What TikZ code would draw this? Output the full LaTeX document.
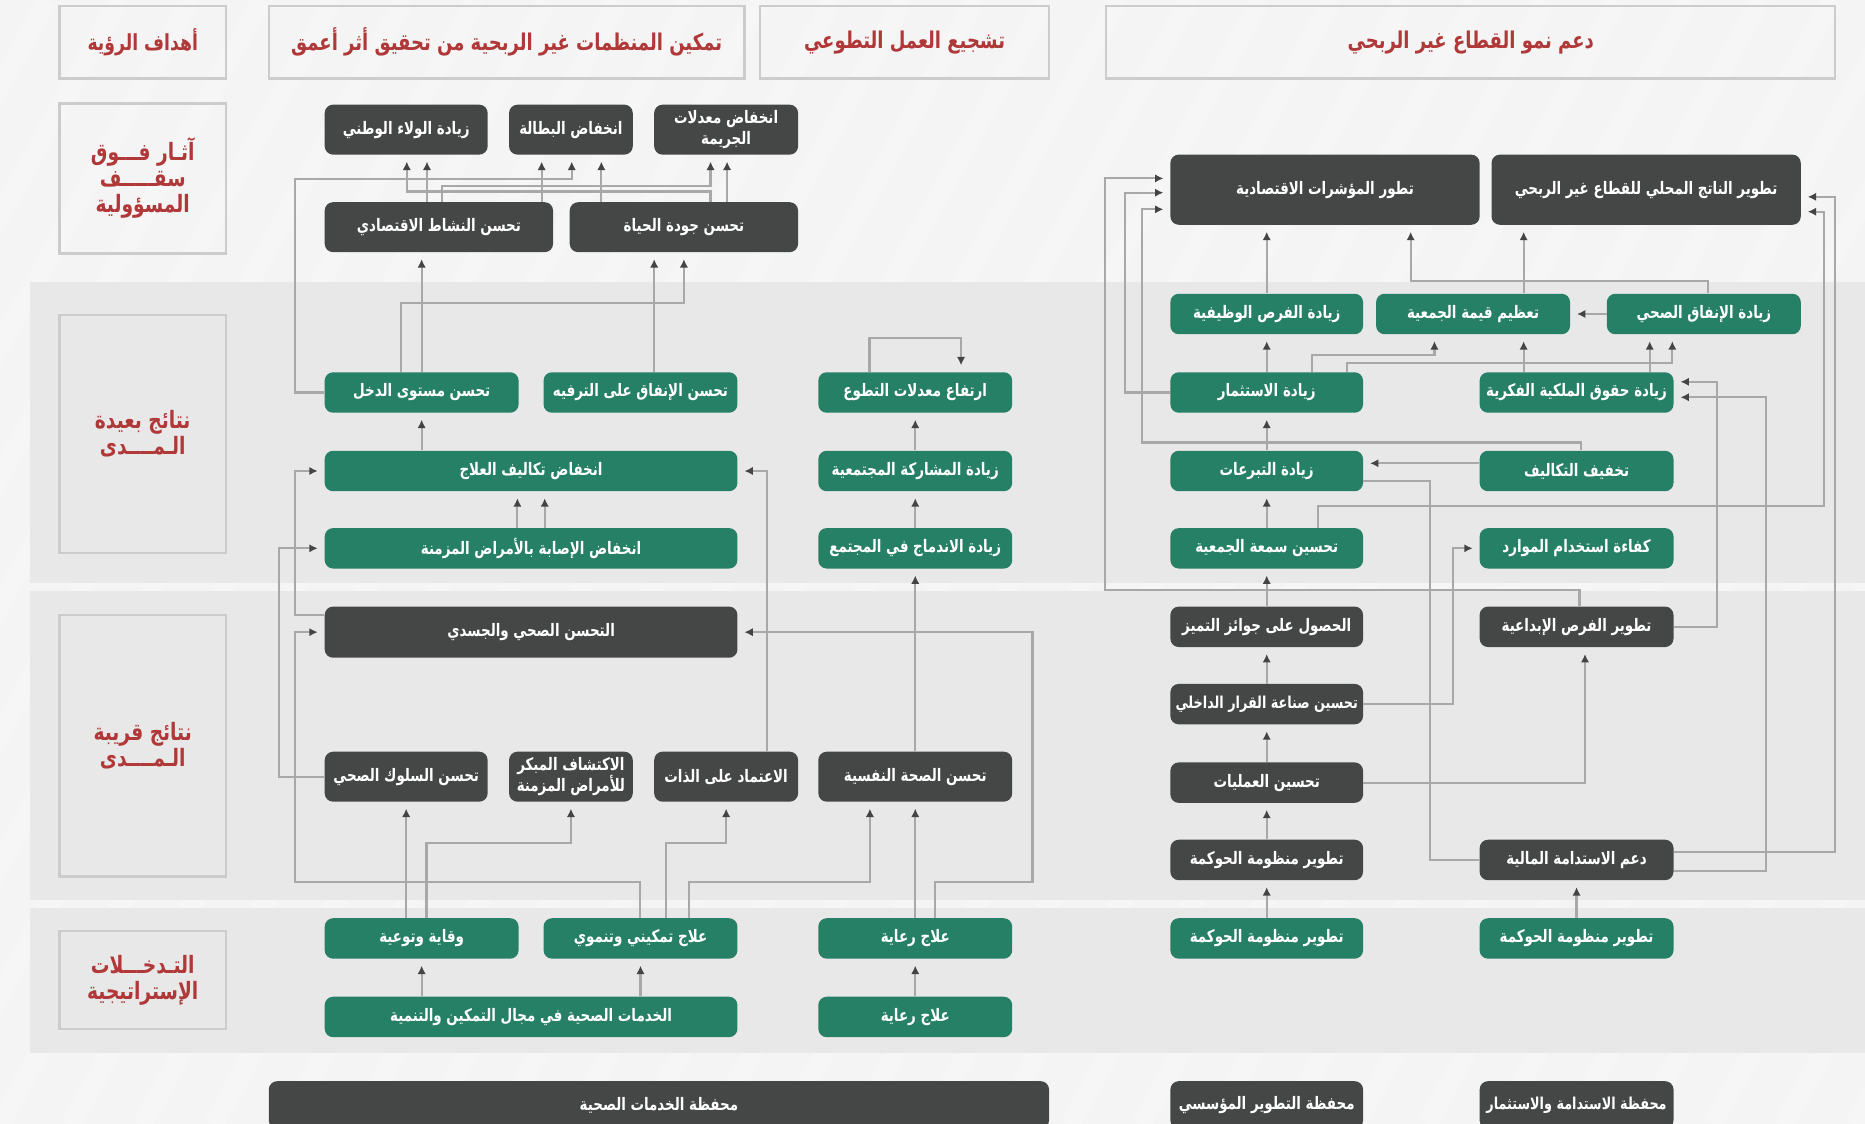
\documentclass[tikz,border=0pt]{standalone}
\usepackage{fontspec}
\newfontfamily\arabicfont[Script=Arabic,FakeStretch=0.78]{DejaVu Sans}
\TeXXeTstate=1
\newcommand\artxt[1]{\beginR #1\endR}
\definecolor{kpigreen}{RGB}{38,128,102}
\definecolor{kpidark}{RGB}{69,71,70}
\definecolor{kpired}{RGB}{176,56,56}
\definecolor{kpiband}{RGB}{232,232,232}
\definecolor{kpibg}{RGB}{244,244,244}
\definecolor{kpiline}{RGB}{168,168,168}
\definecolor{kpitip}{RGB}{68,68,68}
\definecolor{kpiframe}{RGB}{204,204,204}
\usetikzlibrary{arrows.meta}
\newdimen\unitpx \unitpx=0.025cm
\tikzset{
  box/.style={rounded corners=5pt, text=white, align=center, inner sep=0pt,
    font=\arabicfont\bfseries\fontsize{10.3}{12.5}\selectfont, minimum height=34*\unitpx},
  greenbox/.style={box, fill=kpigreen},
  darkbox/.style={box, fill=kpidark},
  small/.style={font=\arabicfont\bfseries\fontsize{9.8}{12}\selectfont},
  headbox/.style={draw=kpiframe, line width=1.4pt, text=kpired, align=center, inner sep=0pt,
    font=\arabicfont\bfseries\fontsize{13.8}{16}\selectfont, minimum height=61*\unitpx},
  rowbox/.style={headbox, minimum width=140*\unitpx, font=\arabicfont\bfseries\fontsize{14.3}{15.5}\selectfont},
  conn/.style={draw=kpiline, line width=1.3pt, shorten >=4pt,
    -{Latex[length=5pt,width=5pt,color=kpitip]}},
  plain/.style={draw=kpiline, line width=1.3pt},
}

\begin{document}
\begin{tikzpicture}[x=0.025cm, y=-0.025cm]
  \useasboundingbox (0,0) rectangle (1568,945);
  \fill[kpibg] (0,0) rectangle (1568,945);
  \begin{scope}
    \clip (0,0) rectangle (1568,945);
    \foreach \s in {-600,-540,...,1560}
      \draw[white, line width=12pt, opacity=0.25] (\s,945) -- (\s+520,0);
  \end{scope}
  \fill[kpiband] (25,237) rectangle (1568,490);
  \fill[kpiband] (25,497) rectangle (1568,757);
  \fill[kpiband] (25,763) rectangle (1568,885);

  % headers and rows
  \node[headbox, minimum width=140*\unitpx, font=\arabicfont\bfseries\fontsize{13.2}{15}\selectfont] (goals) at (120,35.5) {\artxt{أهداف الرؤية}};
  \node[headbox, minimum width=400*\unitpx] (goal1) at (426,35.5) {\artxt{تمكين المنظمات غير الربحية من تحقيق أثر أعمق}};
  \node[headbox, minimum width=243*\unitpx] (goal2) at (760.5,35.5) {\artxt{تشجيع العمل التطوعي}};
  \node[headbox, minimum width=613*\unitpx] (goal3) at (1236.5,35.5) {\artxt{دعم نمو القطاع غير الربحي}};
  \node[rowbox, minimum height=126*\unitpx] (row1) at (120,150) {\artxt{آثـار فـــوق}\\\artxt{سقـــــف}\\\artxt{المسؤولية}};
  \node[rowbox, minimum height=200*\unitpx] (row2) at (120,365) {\artxt{نتائج بعيدة}\\\artxt{الـمــــدى}};
  \node[rowbox, minimum height=220*\unitpx] (row3) at (120,627) {\artxt{نتائج قريبة}\\\artxt{الـمــــدى}};
  \node[rowbox, minimum height=82*\unitpx] (row4) at (120,824) {\artxt{التـدخـــلات}\\\artxt{الإستراتيجية}};

  % health services
  \node[darkbox, minimum width=137*\unitpx, minimum height=42*\unitpx] (loyalty) at (341.5,109) {\artxt{زيادة الولاء الوطني}};
  \node[darkbox, minimum width=104*\unitpx, minimum height=42*\unitpx] (unemploy) at (480,109) {\artxt{انخفاض البطالة}};
  \node[darkbox, minimum width=121*\unitpx, minimum height=42*\unitpx] (crime) at (610.5,109) {\artxt{انخفاض معدلات}\\\artxt{الجريمة}};
  \node[darkbox, minimum width=192*\unitpx, minimum height=42*\unitpx] (econ) at (369,191) {\artxt{تحسن النشاط الاقتصادي}};
  \node[darkbox, minimum width=192*\unitpx, minimum height=42*\unitpx] (quality) at (575,191) {\artxt{تحسن جودة الحياة}};
  \node[greenbox, minimum width=163*\unitpx] (income) at (354.5,330) {\artxt{تحسن مستوى الدخل}};
  \node[greenbox, minimum width=163*\unitpx] (leisure) at (538.5,330) {\artxt{تحسن الإنفاق على الترفيه}};
  \node[greenbox, minimum width=163*\unitpx] (volrate) at (769.5,330) {\artxt{ارتفاع معدلات التطوع}};
  \node[greenbox, minimum width=347*\unitpx] (costs) at (446.5,396) {\artxt{انخفاض تكاليف العلاج}};
  \node[greenbox, minimum width=163*\unitpx] (participation) at (769.5,396) {\artxt{زيادة المشاركة المجتمعية}};
  \node[greenbox, minimum width=347*\unitpx] (chronic) at (446.5,461) {\artxt{انخفاض الإصابة بالأمراض المزمنة}};
  \node[greenbox, minimum width=163*\unitpx] (integration) at (769.5,461) {\artxt{زيادة الاندماج في المجتمع}};
  \node[darkbox, minimum width=347*\unitpx, minimum height=43*\unitpx] (health) at (446.5,531.5) {\artxt{التحسن الصحي والجسدي}};
  \node[darkbox, minimum width=137*\unitpx, minimum height=42*\unitpx] (behaviour) at (341.5,653) {\artxt{تحسن السلوك الصحي}};
  \node[darkbox, minimum width=104*\unitpx, minimum height=42*\unitpx] (early) at (480,653) {\artxt{الاكتشاف المبكر}\\\artxt{للأمراض المزمنة}};
  \node[darkbox, minimum width=121*\unitpx, minimum height=42*\unitpx] (selfrel) at (610.5,653) {\artxt{الاعتماد على الذات}};
  \node[darkbox, minimum width=163*\unitpx, minimum height=42*\unitpx] (mental) at (769.5,653) {\artxt{تحسن الصحة النفسية}};
  \node[greenbox, minimum width=163*\unitpx] (prevent) at (354.5,789) {\artxt{وقاية وتوعية}};
  \node[greenbox, minimum width=163*\unitpx] (enable) at (538.5,789) {\artxt{علاج تمكيني وتنموي}};
  \node[greenbox, minimum width=163*\unitpx] (care) at (769.5,789) {\artxt{علاج رعاية}};
  \node[greenbox, minimum width=347*\unitpx] (services) at (446.5,855) {\artxt{الخدمات الصحية في مجال التمكين والتنمية}};
  \node[greenbox, minimum width=163*\unitpx] (care2) at (769.5,855) {\artxt{علاج رعاية}};

  % nonprofit sector
  \node[darkbox, minimum width=260*\unitpx, minimum height=59*\unitpx] (indicators) at (1114,159.5) {\artxt{تطور المؤشرات الاقتصادية}};
  \node[darkbox, minimum width=260*\unitpx, minimum height=59*\unitpx] (gdp) at (1384,159.5) {\artxt{تطوير الناتج المحلي للقطاع غير الربحي}};
  \node[greenbox, minimum width=162*\unitpx] (jobs) at (1065,264) {\artxt{زيادة الفرص الوظيفية}};
  \node[greenbox, minimum width=163*\unitpx] (value) at (1238.5,264) {\artxt{تعظيم قيمة الجمعية}};
  \node[greenbox, minimum width=163*\unitpx] (spend) at (1432.5,264) {\artxt{زيادة الإنفاق الصحي}};
  \node[greenbox, minimum width=162*\unitpx] (invest) at (1065,330) {\artxt{زيادة الاستثمار}};
  \node[greenbox, minimum width=163*\unitpx] (ip) at (1325.5,330) {\artxt{زيادة حقوق الملكية الفكرية}};
  \node[greenbox, minimum width=162*\unitpx] (donate) at (1065,396) {\artxt{زيادة التبرعات}};
  \node[greenbox, minimum width=163*\unitpx] (cutcost) at (1325.5,396) {\artxt{تخفيف التكاليف}};
  \node[greenbox, minimum width=162*\unitpx] (reput) at (1065,461) {\artxt{تحسين سمعة الجمعية}};
  \node[greenbox, minimum width=163*\unitpx] (efficient) at (1325.5,461) {\artxt{كفاءة استخدام الموارد}};
  \node[darkbox, minimum width=162*\unitpx] (awards) at (1065,527) {\artxt{الحصول على جوائز التميز}};
  \node[darkbox, minimum width=163*\unitpx] (creative) at (1325.5,527) {\artxt{تطوير الفرص الإبداعية}};
  \node[darkbox, small, minimum width=162*\unitpx] (decide) at (1065,592) {\artxt{تحسين صناعة القرار الداخلي}};
  \node[darkbox, minimum width=162*\unitpx] (process) at (1065,658) {\artxt{تحسين العمليات}};
  \node[darkbox, minimum width=162*\unitpx] (govern) at (1065,723) {\artxt{تطوير منظومة الحوكمة}};
  \node[darkbox, minimum width=163*\unitpx] (sustain) at (1325.5,723) {\artxt{دعم الاستدامة المالية}};
  \node[greenbox, minimum width=162*\unitpx] (govin1) at (1065,789) {\artxt{تطوير منظومة الحوكمة}};
  \node[greenbox, minimum width=163*\unitpx] (govin2) at (1325.5,789) {\artxt{تطوير منظومة الحوكمة}};

  % portfolios
  \node[darkbox, minimum width=656*\unitpx, minimum height=40*\unitpx] (pf1) at (554,929) {\artxt{محفظة الخدمات الصحية}};
  \node[darkbox, minimum width=162*\unitpx, minimum height=40*\unitpx] (pf2) at (1065,929) {\artxt{محفظة التطوير المؤسسي}};
  \node[darkbox, small, minimum width=163*\unitpx, minimum height=40*\unitpx] (pf3) at (1325.5,929) {\artxt{محفظة الاستدامة والاستثمار}};

  % links, health side
  \draw[conn] (income.west) -| (247.7,150.8) -| (unemploy.south -| 480.7,0);
  \draw[conn] (quality.north -| 597.4,0) |- (342,161) -- (loyalty.south -| 342,0);
  \draw[conn] (econ.north -| 359,0) -- (loyalty.south -| 359,0);
  \draw[conn] (econ.north -| 371.5,0) |- (597.4,156.4) -- (crime.south -| 597.4,0);
  \draw[conn] (econ.north -| 455.4,0) -- (unemploy.south -| 455.4,0);
  \draw[conn] (quality.north -| 505.6,0) -- (unemploy.south -| 505.6,0);
  \draw[conn] (quality.north -| 611.3,0) -- (crime.south -| 611.3,0);
  \draw[conn] (income.north) -- (econ.south -| income.north);
  \draw[conn] (income.north -| 337,0) |- (575,255) -- (quality.south -| 575,0);
  \draw[conn] (leisure.north -| 550,0) -- (quality.south -| 550,0);
  \draw[conn] (volrate.north -| 731,0) |- (808,284) -- (volrate.north -| 808,0);
  \draw[conn] (costs.north -| income.north) -- (income.south);
  \draw[conn] (participation.north) -- (volrate.south);
  \draw[conn] (chronic.north -| 435,0) -- (costs.south -| 435,0);
  \draw[conn] (chronic.north -| 458,0) -- (costs.south -| 458,0);
  \draw[conn] (integration.north) -- (participation.south);
  \draw[conn] (health.west |- 0,517) -| (247.7,396) -- (costs.west);
  \draw[conn] (behaviour.west) -| (234.7,461) -- (chronic.west);
  \draw[conn] (selfrel.north -| 644.6,0) |- (costs.east);
  \draw[conn] (mental.north) -- (integration.south);
  \draw[conn] (enable.north -| 538,0) |- (247.7,741.3) |- (health.west);
  \draw[conn] (care.north -| 786,0) |- (868,741.3) |- (health.east);
  \draw[conn] (prevent.north -| behaviour.south) -- (behaviour.south);
  \draw[conn] (prevent.north -| 358.6,0) |- (early.south |- 0,709) -- (early.south);
  \draw[conn] (enable.north -| 560,0) |- (selfrel.south |- 0,709) -- (selfrel.south);
  \draw[conn] (enable.north -| 579,0) |- (731.4,741.3) -- (mental.south -| 731.4,0);
  \draw[conn] (care.north) -- (mental.south);
  \draw[conn] (services.north -| prevent.south) -- (prevent.south);
  \draw[conn] (services.north -| enable.south) -- (enable.south);
  \draw[conn] (care2.north) -- (care.south);

  % links, sector side
  \draw[conn] (creative.north -| 1328,0) |- (929,496) |- (indicators.west |- 0,150);
  \draw[conn] (invest.west) -| (946,162) -- (indicators.west |- 0,162);
  \draw[conn] (cutcost.north -| 1329,0) |- (960,372) |- (indicators.west |- 0,176);
  \draw[conn] (jobs.north) -- (indicators.south -| jobs.north);
  \draw[conn] (spend.north -| 1436,0) |- (1186,236) -- (indicators.south -| 1186,0);
  \draw[conn] (value.north -| 1281,0) -- (gdp.south -| 1281,0);
  \draw[conn] (reput.north -| 1108,0) |- (1533.6,425.5) |- (gdp.east |- 0,178);
  \draw[conn] (sustain.east |- 0,716) -| (1543,165.5) -- (gdp.east |- 0,165.5);
  \draw[conn] (spend.west) -- (value.east);
  \draw[conn] (invest.north) -- (jobs.south);
  \draw[conn] (invest.north -| 1103,0) |- (1206,298.5) -- (value.south -| 1206,0);
  \draw[conn] (invest.north -| 1132.5,0) |- (1406,305) -- (spend.south -| 1406,0);
  \draw[conn] (ip.north -| 1387,0) -- (spend.south -| 1387,0);
  \draw[conn] (ip.north -| 1281,0) -- (value.south -| 1281,0);
  \draw[conn] (creative.east) -| (1443.6,321) -- (ip.east |- 0,321);
  \draw[conn] (sustain.east |- 0,732.5) -| (1485,334) -- (ip.east |- 0,334);
  \draw[conn] (donate.north) -- (invest.south);
  \draw[conn] (cutcost.west |- 0,389.5) -- (donate.east |- 0,389.5);
  \draw[plain] (donate.east |- 0,404.6) -| (1202,723) -- (sustain.west);
  \draw[conn] (reput.north) -- (donate.south);
  \draw[conn] (decide.east) -| (1221.6,461) -- (efficient.west);
  \draw[conn] (awards.north) -- (reput.south);
  \draw[conn] (decide.north) -- (awards.south);
  \draw[conn] (process.north) -- (decide.south);
  \draw[conn] (govern.north) -- (process.south);
  \draw[conn] (process.east) -| (creative.south -| 1332.6,0);
  \draw[conn] (govin1.north) -- (govern.south);
  \draw[conn] (govin2.north) -- (sustain.south);
\end{tikzpicture}
\end{document}
